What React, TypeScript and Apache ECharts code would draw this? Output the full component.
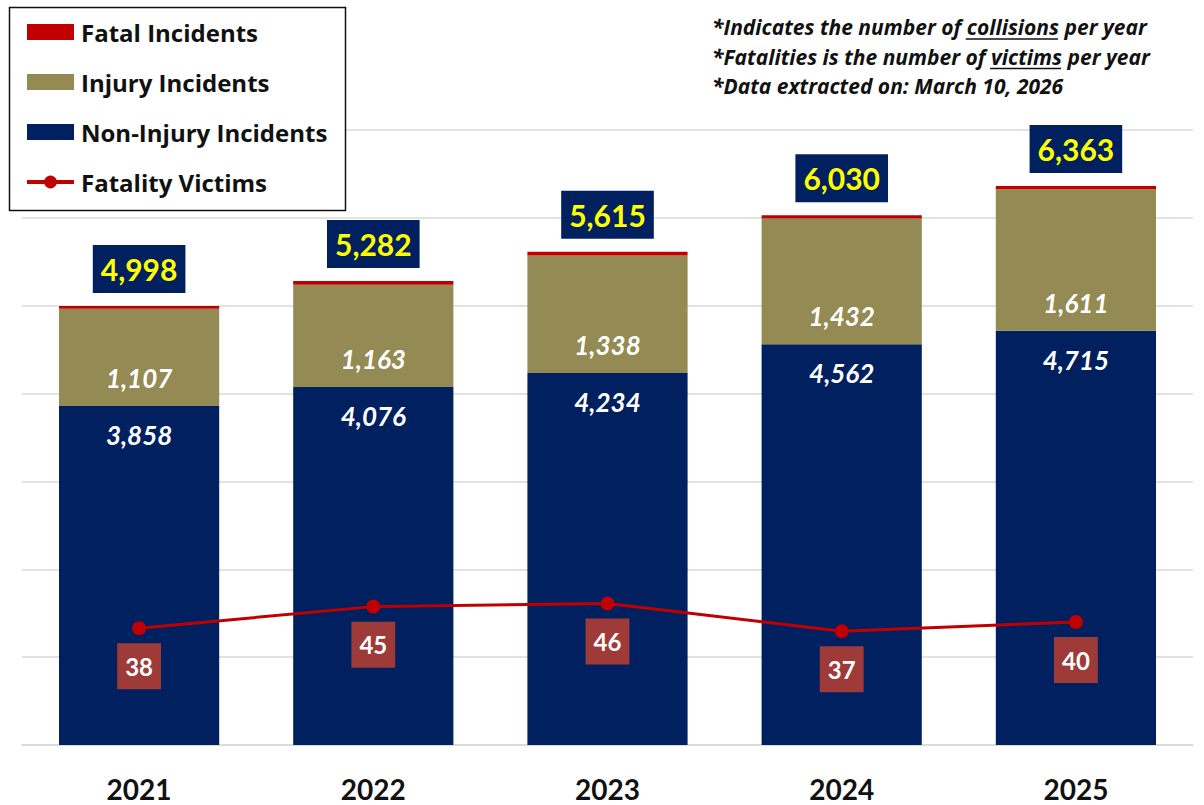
import React, { useEffect, useRef } from "react";
import * as echarts from "echarts";

const years = ["2021", "2022", "2023", "2024", "2025"];
const nonInjury = [3858, 4076, 4234, 4562, 4715];
const injury = [1107, 1163, 1338, 1432, 1611];
const fatal = [33, 43, 43, 36, 37];
const totals = [4998, 5282, 5615, 6030, 6363];
const victims = [38, 45, 46, 37, 40];
// [before, underlined, after]
const notes: [string, string, string][] = [
  ["*Indicates the number of ", "collisions", " per year"],
  ["*Fatalities is the number of ", "victims", " per year"],
  ["*Data extracted on: March 10, 2026", "", ""],
];

const FONT = "Lato";
const NOTE_FONT = "Open Sans";
const NOTE_SIZE = 21;
const fmt = (v: number) => v.toLocaleString("en-US");

function measure(text: string, font: string) {
  const c = document.createElement("canvas").getContext("2d")!;
  c.font = font;
  return c.measureText(text).width;
}

export default function App() {
  const ref = useRef<HTMLDivElement>(null);
  useEffect(() => {
    if (!ref.current) return;
    const chart = echarts.init(ref.current, null, { renderer: "svg" });
    const noteFont = `italic bold ${NOTE_SIZE}px "${NOTE_FONT}"`;
    const noteX = 712;
    const noteGraphics: any[] = [];
    notes.forEach((parts, i) => {
      const y = 27 + i * 29.5;
      noteGraphics.push({
        type: "text",
        z: 10,
        x: noteX,
        y,
        style: {
          text: parts.join(""),
          fontFamily: NOTE_FONT,
          fontSize: NOTE_SIZE,
          fontStyle: "italic",
          fontWeight: "bold",
          fill: "#111",
          verticalAlign: "middle",
        },
      });
      if (parts[1]) {
        const x1 = noteX + measure(parts[0], noteFont);
        const x2 = x1 + measure(parts[1], noteFont);
        noteGraphics.push({
          type: "line",
          z: 10,
          shape: { x1: x1 - 1, y1: y + 12, x2: x2 - 1, y2: y + 12 },
          style: { stroke: "#111", lineWidth: 1.3 },
        });
      }
    });
    chart.setOption({
      animation: false,
      backgroundColor: "#fff",
      textStyle: { fontFamily: FONT },
      grid: { left: 22, right: 11, top: 130, bottom: 60, containLabel: false },
      legend: {
        orient: "vertical",
        left: 25,
        top: 20,
        padding: 0,
        itemWidth: 47,
        itemHeight: 16,
        itemGap: 26,
        z: 10,
        data: [
          { name: "Fatal Incidents", icon: "rect" },
          { name: "Injury Incidents", icon: "rect" },
          { name: "Non-Injury Incidents", icon: "rect" },
          { name: "Fatality Victims", lineStyle: { width: 4 } },
        ],
        textStyle: {
          fontFamily: "Open Sans",
          fontSize: 24,
          fontWeight: "bold",
          color: "#111",
          lineHeight: 22,
          padding: [0, 0, 0, 2],
        },
      },
      graphic: [
        {
          type: "rect",
          z: 5,
          shape: { x: 9.5, y: 7.5, width: 336, height: 203 },
          style: { fill: "#fff", stroke: "#111", lineWidth: 1.5 },
        },
        ...noteGraphics,
      ],
      xAxis: {
        type: "category",
        data: years,
        axisLine: { show: true, lineStyle: { color: "#d9d9d9", width: 1.5 } },
        axisTick: { show: false },
        axisLabel: { fontFamily: FONT, fontSize: 28, fontWeight: "bold", color: "#111", margin: 30 },
      },
      yAxis: [
        {
          type: "value",
          min: 0,
          max: 7000,
          interval: 1000,
          axisLabel: { show: false },
          axisLine: { show: false },
          axisTick: { show: false },
          splitLine: { lineStyle: { color: "#d9d9d9", width: 1.5 } },
        },
        {
          type: "value",
          min: 0,
          max: 200,
          show: false,
          splitLine: { show: false },
        },
      ],
      series: [
        {
          name: "Non-Injury Incidents",
          type: "bar",
          stack: "total",
          data: nonInjury,
          barWidth: "68.4%",
          itemStyle: { color: "#002060" },
          label: {
            show: true,
            position: "insideTop",
            distance: 17,
            formatter: (p: any) => fmt(p.value),
            fontFamily: FONT,
            fontSize: 26,
            fontStyle: "italic",
            fontWeight: "bold",
            color: "#fff",
            lineHeight: 24,
          },
        },
        {
          name: "Injury Incidents",
          type: "bar",
          stack: "total",
          data: injury,
          itemStyle: { color: "#948a54" },
          label: {
            show: true,
            position: "insideBottom",
            distance: 16,
            formatter: (p: any) => fmt(p.value),
            fontFamily: FONT,
            fontSize: 26,
            fontStyle: "italic",
            fontWeight: "bold",
            color: "#fff",
            lineHeight: 24,
          },
        },
        {
          name: "Fatal Incidents",
          type: "bar",
          stack: "total",
          data: fatal,
          itemStyle: { color: "#c00000" },
          label: {
            show: true,
            position: "top",
            distance: 13,
            formatter: (p: any) => fmt(totals[p.dataIndex]),
            fontFamily: FONT,
            fontSize: 30,
            fontWeight: "bold",
            color: "#ffff00",
            backgroundColor: "#002060",
            padding: [9, 8, 9, 8],
            lineHeight: 30,
          },
        },
        {
          name: "Fatality Victims",
          type: "line",
          yAxisIndex: 1,
          data: victims,
          symbol: "circle",
          symbolSize: 14,
          z: 5,
          lineStyle: { color: "#c00000", width: 3 },
          itemStyle: { color: "#c00000" },
          label: {
            show: true,
            position: "bottom",
            distance: 8,
            fontFamily: FONT,
            fontSize: 24,
            fontWeight: "bold",
            color: "#fff",
            backgroundColor: "#9e3a38",
            padding: [11, 8, 11, 8],
            lineHeight: 24,
          },
        },
      ],
    });
    return () => chart.dispose();
  }, []);
  return <div ref={ref} style={{ position: "absolute", left: 0, top: 0, width: 1204, height: 805 }} />;
}
